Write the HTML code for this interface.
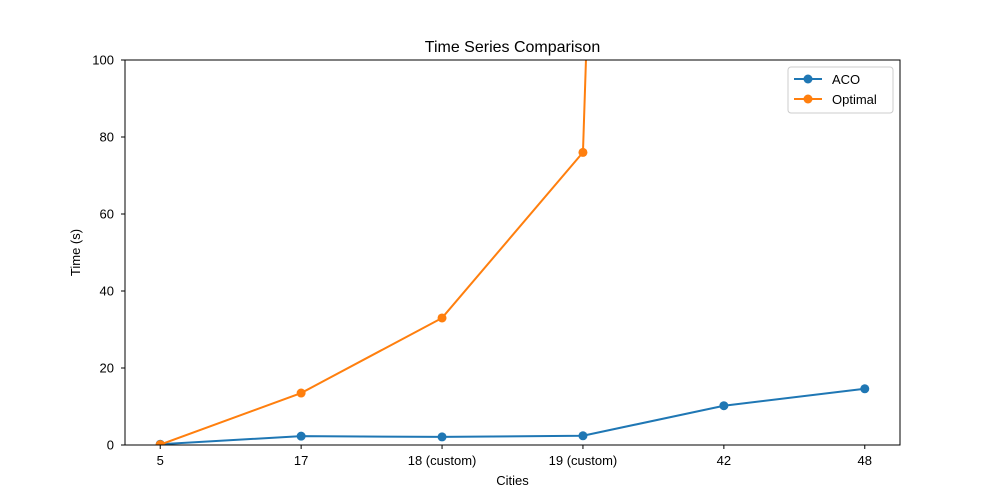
<!DOCTYPE html>
<html><head><meta charset="utf-8"><style>
body{margin:0;background:#fff;}
svg{display:block;font-family:"Liberation Sans","DejaVu Sans",sans-serif;}
</style></head><body>
<svg id="chart" width="1000" height="500">
<defs><clipPath id="clip"><rect x="125" y="60" width="775" height="385"/></clipPath></defs>
<rect width="1000" height="500" fill="#fff"/>
<text x="512.5" y="52" text-anchor="middle" font-size="16" fill="#000">Time Series Comparison</text>
<g id="series" clip-path="url(#clip)"></g>
<g id="axes"></g>
<text x="512.5" y="485" text-anchor="middle" font-size="13">Cities</text>
<text transform="translate(80,252.5) rotate(-90)" text-anchor="middle" font-size="13">Time (s)</text>
<g>
<rect x="788" y="67" width="105" height="46" fill="#fff" stroke="#ccc" rx="3"/>
<g>
<line x1="794" y1="79" x2="822" y2="79" stroke="#1f77b4" stroke-width="2"/>
<circle cx="808" cy="79" r="4.5" fill="#1f77b4"/>
<text x="832" y="84" font-size="13">ACO</text></g>
<g>
<line x1="794" y1="99" x2="822" y2="99" stroke="#ff7f0e" stroke-width="2"/>
<circle cx="808" cy="99" r="4.5" fill="#ff7f0e"/>
<text x="832" y="104" font-size="13">Optimal</text></g>
</g>
</svg>
<script>
const categories = ["5","17","18 (custom)","19 (custom)","42","48"];
const acoValues = [0.2, 2.3, 2.1, 2.4, 10.2, 14.6];
const optimalValues = [0.1, 13.5, 33, 76, 1200, 5000];
const yTicks = [0, 20, 40, 60, 80, 100];

const L=125,R=900,T=60,B=445,yMax=100;
const xs=i=>L+(i+0.25)*(R-L)/(categories.length-0.5);
const ys=v=>B-v/yMax*(B-T);
const NS="http://www.w3.org/2000/svg";
function mk(tag,attrs,parent){const e=document.createElementNS(NS,tag);for(const k in attrs)e.setAttribute(k,attrs[k]);parent.appendChild(e);return e;}
const axes=document.getElementById('axes'), series=document.getElementById('series');
const frame=mk('rect',{x:L,y:T,width:R-L,height:B-T,fill:'none',stroke:'#000','stroke-width':1},axes);


categories.forEach((c,i)=>{
  const x=xs(i);
  const t=mk('line',{x1:x,y1:B,x2:x,y2:B+4,stroke:'#000'},axes);
  
  
  const lb=mk('text',{x:x,y:B+20,'text-anchor':'middle','font-size':13},axes);lb.textContent=c;
  
  
});
yTicks.forEach(v=>{
  const y=ys(v);
  const t=mk('line',{x1:L-4,y1:y,x2:L,y2:y,stroke:'#000'},axes);
  
  
  const lb=mk('text',{x:L-11,y:y+4.5,'text-anchor':'end','font-size':13},axes);lb.textContent=v;
  
  
});
function draw(vals,color,name){
  const g=mk('g',{},series);
  
  
  const p=mk('polyline',{points:vals.map((v,i)=>xs(i)+','+ys(v)).join(' '),fill:'none',stroke:color,'stroke-width':2},g);
  
  
  vals.forEach((v,i)=>{
    const c=mk('circle',{cx:xs(i),cy:ys(v),r:4.5,fill:color},g);
    
    
  });
}
draw(acoValues,'#1f77b4','aco');
draw(optimalValues,'#ff7f0e','optimal');
</script>
</body></html>
